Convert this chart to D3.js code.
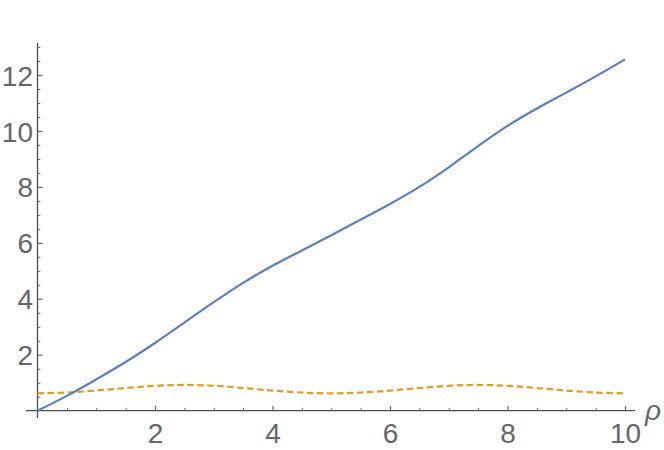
<!DOCTYPE html>
<html>
<head>
<meta charset="utf-8">
<script src="https://cdn.jsdelivr.net/npm/d3@7"></script>
<style>
  html, body { margin: 0; padding: 0; background: #fff; }
  svg { display: block; }
</style>
</head>
<body>
<svg id="chart" width="664" height="450"></svg>
<script>
// ---- data ----
const rhoValues   = [0, 0.5, 1, 1.5, 2, 2.5, 3, 3.5, 4, 4.5, 5, 5.5, 6, 6.5, 7, 7.5, 8, 8.5, 9, 9.5, 10];
const blueSeries  = [0, 0.53, 1.12, 1.74, 2.42, 3.15, 3.88, 4.57, 5.18, 5.73, 6.27, 6.83, 7.39, 8.0, 8.7, 9.46, 10.18, 10.8, 11.37, 11.95, 12.56];
const orangeSeries= [0.62, 0.65, 0.72, 0.81, 0.89, 0.92, 0.89, 0.81, 0.72, 0.65, 0.62, 0.65, 0.72, 0.81, 0.89, 0.92, 0.89, 0.81, 0.72, 0.65, 0.62];
const xMajorTicks = [2, 4, 6, 8, 10];
const xMinorTicks = [0.5, 1, 1.5, 2.5, 3, 3.5, 4.5, 5, 5.5, 6.5, 7, 7.5, 8.5, 9, 9.5];
const yMajorTicks = [2, 4, 6, 8, 10, 12];
const yMinorTicks = [0.5, 1, 1.5, 2.5, 3, 3.5, 4.5, 5, 5.5, 6.5, 7, 7.5, 8.5, 9, 9.5, 10.5, 11, 11.5, 12.5, 13];
const xLabel = "ρ";

const svg = d3.select("#chart");
const x = d3.scaleLinear().domain([0, 10]).range([37.5, 625]);
const y = d3.scaleLinear().domain([0, 12]).range([410.7, 75]);

const axisColor = "#4d4d4d";
const tickColor = "#6b6b6b";
const labelColor = "#666666";
const font = "'Liberation Sans', Arial, sans-serif";
const fontSize = 28;

// ---- x axis ----
const gx = svg.append("g").attr("transform", `translate(0,${y(0)})`);
gx.append("g").call(d3.axisBottom(x).tickValues(xMinorTicks).tickSize(-2.8).tickFormat(""))
  .call(g => g.select(".domain").remove())
  .selectAll("line").attr("stroke", tickColor).attr("stroke-width", 1);
const gxM = gx.append("g").call(d3.axisBottom(x).tickValues(xMajorTicks).tickSize(-5).tickPadding(0).tickFormat(d3.format("d")));
gxM.select(".domain").remove();
gxM.selectAll("line").attr("stroke", tickColor).attr("stroke-width", 1.2);
gxM.selectAll("text").attr("y", 32.5).attr("dy", null)
  .attr("fill", labelColor).attr("font-family", font).attr("font-size", fontSize);
gx.append("line").attr("x1", 26).attr("x2", 635).attr("y1", 0).attr("y2", 0)
  .attr("stroke", axisColor).attr("stroke-width", 1.3);

// ---- y axis ----
const gy = svg.append("g").attr("transform", `translate(${x(0)},0)`);
gy.append("g").call(d3.axisLeft(y).tickValues(yMinorTicks).tickSize(-2.8).tickFormat(""))
  .call(g => g.select(".domain").remove())
  .selectAll("line").attr("stroke", tickColor).attr("stroke-width", 1);
const gyM = gy.append("g").call(d3.axisLeft(y).tickValues(yMajorTicks).tickSize(-5).tickPadding(0).tickFormat(d3.format("d")));
gyM.select(".domain").remove();
gyM.selectAll("line").attr("stroke", tickColor).attr("stroke-width", 1.2);
gyM.selectAll("text").attr("x", -4.5).attr("dy", "0.36em").attr("text-anchor", "end")
  .attr("fill", labelColor).attr("font-family", font).attr("font-size", fontSize);
gy.append("line").attr("x1", 0).attr("x2", 0).attr("y1", 43).attr("y2", 418)
  .attr("stroke", axisColor).attr("stroke-width", 1.3);

// axis label
svg.append("text").attr("x", 645).attr("y", 420).text(xLabel)
  .attr("fill", labelColor).attr("font-family", font).attr("font-size", fontSize).attr("font-style", "italic");

// ---- curves ----
const line = d3.line().curve(d3.curveCatmullRom.alpha(0.5)).x((d, i) => x(rhoValues[i])).y(d => y(d));
svg.append("path").datum(orangeSeries).attr("d", line)
  .attr("fill", "none").attr("stroke", "#e19c24").attr("stroke-width", 2.2)
  .attr("stroke-dasharray", "6.5,3.5");
svg.append("path").datum(blueSeries).attr("d", line)
  .attr("fill", "none").attr("stroke", "#5e81b5").attr("stroke-width", 2.2);
</script>
</body>
</html>
